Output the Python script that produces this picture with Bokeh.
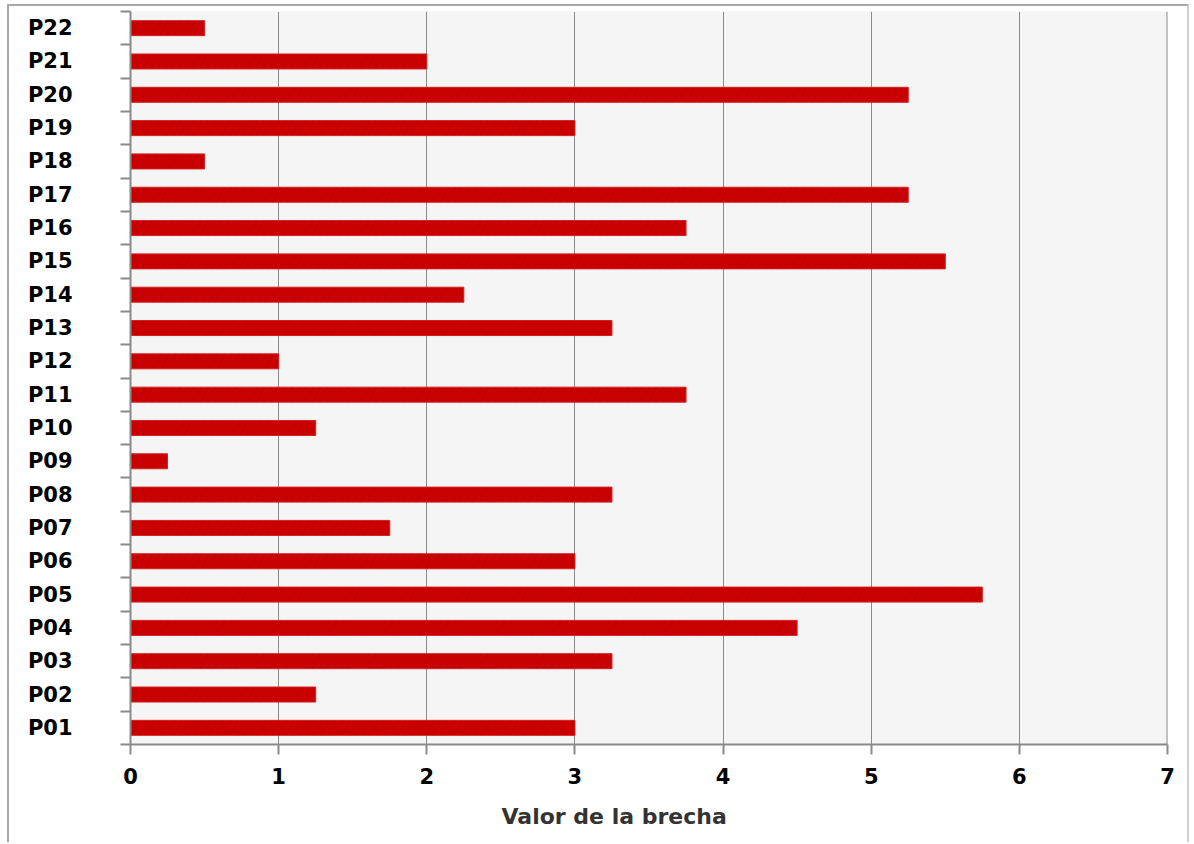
from bokeh.plotting import figure
from bokeh.models import Range1d, FixedTicker, Span, Title
from bokeh.embed import file_html
from bokeh.resources import INLINE

categories = ["P01", "P02", "P03", "P04", "P05", "P06", "P07", "P08", "P09", "P10", "P11",
              "P12", "P13", "P14", "P15", "P16", "P17", "P18", "P19", "P20", "P21", "P22"]
values = [3, 1.25, 3.25, 4.5, 5.75, 3, 1.75, 3.25, 0.25, 1.25, 3.75,
          1, 3.25, 2.25, 5.5, 3.75, 5.25, 0.5, 3, 5.25, 2, 0.5]
x_ticks = [0, 1, 2, 3, 4, 5, 6, 7]
x_title = "Valor de la brecha"

positions = list(range(1, len(categories) + 1))
boundaries = [p - 0.5 for p in positions] + [len(categories) + 0.5]

p = figure(width=1182, height=838, output_backend="svg", toolbar_location=None,
           x_range=Range1d(x_ticks[0], x_ticks[-1]), y_range=Range1d(0.5, len(categories) + 0.5),
           min_border_left=121, min_border_right=24, min_border_top=5, min_border_bottom=98,
           styles={"margin-left": "7px", "margin-top": "4px",
                   "border-left": "2px solid #a8a8a8", "border-top": "2px solid #a8a8a8",
                   "border-right": "2px solid #d0d0d0"})

p.background_fill_color = "#f5f5f5"
p.border_fill_color = "white"
p.outline_line_color = None

p.hbar(y=positions, right=values, left=0, height=0.45, fill_color="#cc0000",
       line_color="#d42020", line_width=1,
       hatch_pattern="right_diagonal_line", hatch_color="#a00000", hatch_alpha=0.25,
       hatch_scale=14, hatch_weight=2)

p.add_layout(Span(location=x_ticks[-1], dimension="height", line_color="#8a8a8a", line_width=2))

# x axis
p.xaxis.ticker = FixedTicker(ticks=x_ticks)
p.xaxis.axis_line_color = "#8a8a8a"
p.xaxis.axis_line_width = 2
p.xaxis.major_tick_line_color = "#8a8a8a"
p.xaxis.major_tick_line_width = 2
p.xaxis.major_tick_out = 10
p.xaxis.major_tick_in = 0
p.xaxis.minor_tick_line_color = None
p.xaxis.major_label_text_font = "DejaVu Sans"
p.xaxis.major_label_text_font_style = "bold"
p.xaxis.major_label_text_font_size = "21px"
p.xaxis.major_label_text_color = "black"
p.xaxis.major_label_standoff = 13

# y axis
p.yaxis.ticker = FixedTicker(ticks=positions, minor_ticks=boundaries)
p.yaxis.major_label_overrides = {pos: c for pos, c in zip(positions, categories)}
p.yaxis.axis_line_color = "#8a8a8a"
p.yaxis.axis_line_width = 2
p.yaxis.major_tick_line_color = None
p.yaxis.major_tick_out = 0
p.yaxis.major_tick_in = 0
p.yaxis.minor_tick_line_color = "#8a8a8a"
p.yaxis.minor_tick_line_width = 2
p.yaxis.minor_tick_out = 10
p.yaxis.minor_tick_in = 0
p.yaxis.major_label_text_font = "DejaVu Sans"
p.yaxis.major_label_text_font_style = "bold"
p.yaxis.major_label_text_font_size = "21px"
p.yaxis.major_label_text_color = "black"
p.yaxis.major_label_standoff = 48

p.xgrid.ticker = FixedTicker(ticks=x_ticks)
p.xgrid.grid_line_color = "#8a8a8a"
p.xgrid.grid_line_width = 1
p.ygrid.grid_line_color = None

p.add_layout(Title(text=x_title, align="left", offset=371, standoff=31,
                   vertical_align="bottom", text_line_height=0.7,
                   text_font="DejaVu Sans", text_font_style="bold", text_font_size="22px",
                   text_color="#333333"), "below")

open("out.html", "w").write(file_html(p, INLINE))
